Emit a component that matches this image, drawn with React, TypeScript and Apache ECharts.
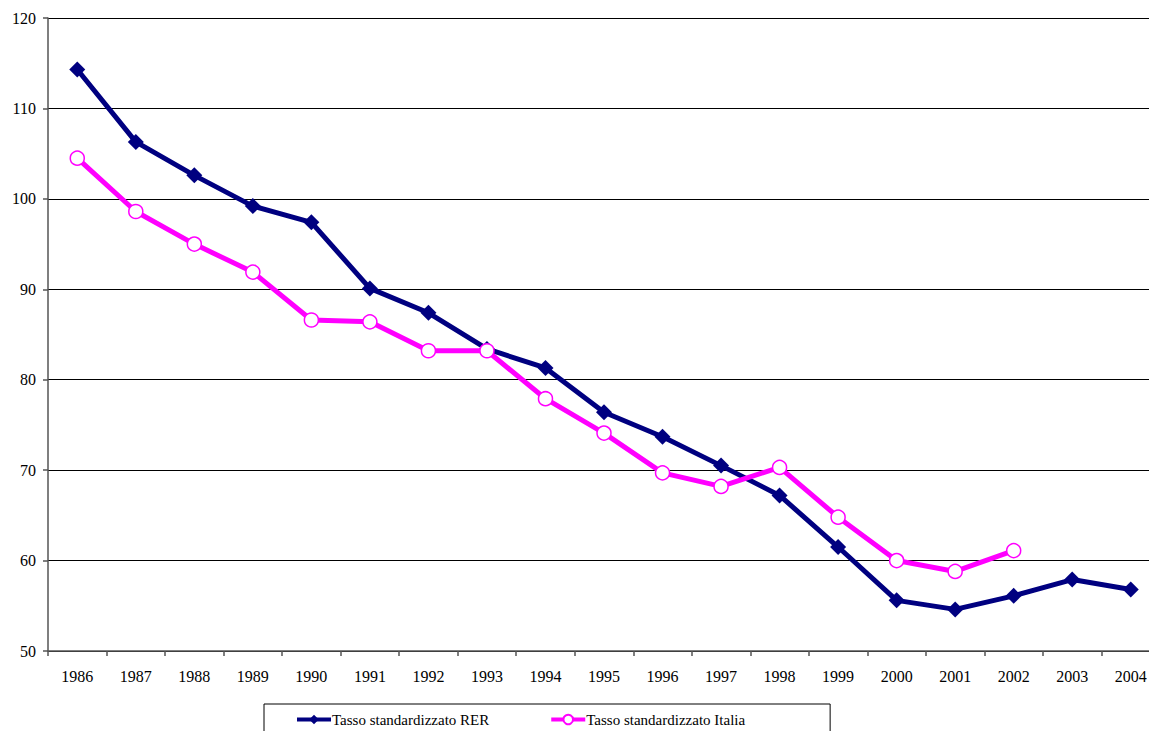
import React, { useEffect, useRef } from "react";
import * as echarts from "echarts";

const years = ["1986","1987","1988","1989","1990","1991","1992","1993","1994","1995","1996","1997","1998","1999","2000","2001","2002","2003","2004"];
const rer = [114.3, 106.3, 102.6, 99.2, 97.4, 90.1, 87.4, 83.4, 81.3, 76.4, 73.7, 70.5, 67.2, 61.5, 55.6, 54.6, 56.1, 57.9, 56.8];
const italia = [104.5, 98.6, 95.0, 91.9, 86.6, 86.4, 83.2, 83.2, 77.9, 74.1, 69.7, 68.2, 70.3, 64.8, 60.0, 58.8, 61.1];

const FONT = "Liberation Serif";

export default function App() {
  const ref = useRef<HTMLDivElement>(null);
  useEffect(() => {
    if (!ref.current) return;
    const chart = echarts.init(ref.current, null, { renderer: "svg" });
    chart.setOption({
      animation: false,
      backgroundColor: "#fff",
      textStyle: { fontFamily: FONT },
      grid: {
        left: 48,
        top: 18,
        width: 1112,
        height: 633,
        containLabel: false,
        outerBoundsMode: "none",
      },
      legend: {
        left: 264,
        top: 704,
        orient: "horizontal",
        padding: [8, 85, 20, 31],
        borderColor: "#000",
        borderWidth: 1,
        itemWidth: 34,
        itemHeight: 12,
        itemGap: 60,
        lineStyle: { width: 4 },
        textStyle: { fontFamily: FONT, fontSize: 15, color: "#000", padding: [0, 0, 0, -4] },
        data: ["Tasso standardizzato RER", "Tasso standardizzato Italia"],
      },
      xAxis: {
        type: "category",
        data: years,
        boundaryGap: true,
        axisLine: { lineStyle: { color: "#555", width: 1.5 } },
        axisTick: { show: true, length: 5, inside: false, lineStyle: { color: "#555", width: 1.5 } },
        axisLabel: { fontFamily: FONT, fontSize: 16, color: "#000", margin: 17 },
        splitLine: { show: false },
      },
      yAxis: {
        type: "value",
        min: 50,
        max: 120,
        interval: 10,
        axisLine: { show: true, lineStyle: { color: "#555", width: 1.5 } },
        axisTick: { show: true, length: 5, lineStyle: { color: "#555", width: 1.5 } },
        axisLabel: { fontFamily: FONT, fontSize: 16, color: "#000", margin: 12 },
        splitLine: { show: true, lineStyle: { color: "#000", width: 1 } },
      },
      series: [
        {
          name: "Tasso standardizzato RER",
          type: "line",
          data: rer,
          symbol: "diamond",
          symbolSize: 16,
          color: "#000080",
          lineStyle: { color: "#000080", width: 5 },
          itemStyle: { color: "#000080" },
          z: 2,
        },
        {
          name: "Tasso standardizzato Italia",
          type: "line",
          data: italia,
          symbol: "circle",
          symbolSize: 14,
          color: "#FF00FF",
          lineStyle: { color: "#FF00FF", width: 5 },
          itemStyle: { color: "#FFFFFF", borderColor: "#FF00FF", borderWidth: 1.5 },
          z: 3,
        },
      ],
    });
    return () => chart.dispose();
  }, []);
  return (
    <div
      ref={ref}
      style={{ position: "fixed", left: 0, top: 0, width: 1149, height: 731 }}
    />
  );
}
